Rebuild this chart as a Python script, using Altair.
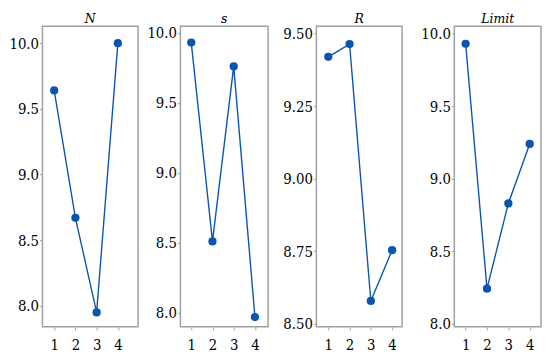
import altair as alt
import pandas as pd

levels = [1, 2, 3, 4]
titles = ["N", "s", "R", "Limit"]
vals_N = [9.64, 8.67, 7.95, 10.0]
vals_s = [9.93, 8.51, 9.76, 7.97]
vals_R = [9.42, 9.464, 8.579, 8.754]
vals_L = [9.93, 8.243, 8.83, 9.24]

ydomains = [[7.84, 10.128], [7.90, 10.046], [8.49, 9.525], [7.98, 10.05]]
xdomains = [[0.45, 4.95], [0.49, 4.62], [0.44, 4.47], [0.47, 4.53]]
yticks = [[8.0, 8.5, 9.0, 9.5, 10.0], [8.0, 8.5, 9.0, 9.5, 10.0],
          [8.5, 8.75, 9.0, 9.25, 9.5], [8.0, 8.5, 9.0, 9.5, 10.0]]
yfmt = [".1f", ".1f", ".2f", ".1f"]
widths = [97, 89, 87, 88]
H = 305
BLUE = "#0B55AE"
GREY = "#A0A0A0"
FONT = "DejaVu Serif Condensed, DejaVu Serif"


def panel(i, vals):
    df = pd.DataFrame({"level": levels, "value": vals})
    x = alt.X("level:Q",
              scale=alt.Scale(domain=xdomains[i], nice=False, zero=False),
              axis=alt.Axis(values=levels, format="d", title=None, grid=False,
                            domain=False, tickColor=GREY, tickSize=3,
                            labelFont=FONT, labelFontSize=15, labelColor="black",
                            labelPadding=8, labelAngle=0))
    y = alt.Y("value:Q",
              scale=alt.Scale(domain=ydomains[i], nice=False, zero=False),
              axis=alt.Axis(values=yticks[i], format=yfmt[i], title=None, grid=False,
                            domain=False, tickColor=GREY, tickSize=3,
                            labelFont=FONT, labelFontSize=15, labelColor="black",
                            labelPadding=1, minExtent=34, maxExtent=34))
    base = alt.Chart(df)
    line = base.mark_line(color=BLUE, strokeWidth=1.4).encode(x=x, y=y)
    pts = base.mark_circle(color=BLUE, size=70, opacity=1).encode(x=x, y=y)
    return alt.layer(line, pts).properties(
        width=widths[i], height=H,
        title=alt.TitleParams(titles[i], font=FONT, fontStyle="italic",
                              fontWeight="normal", fontSize=14, offset=0,
                              color="black"))


p1 = panel(0, vals_N)
p2 = panel(1, vals_s)
p3 = panel(2, vals_R)
p4 = panel(3, vals_L)

left = alt.hconcat(p1, p2, spacing=7)
right = alt.hconcat(p3, p4, spacing=17)
chart = alt.hconcat(left, right, spacing=13).properties(padding=0).configure_view(
    stroke=GREY, strokeWidth=1.5
)

chart.save("out.html", embed_options={"renderer": "svg", "actions": False})
